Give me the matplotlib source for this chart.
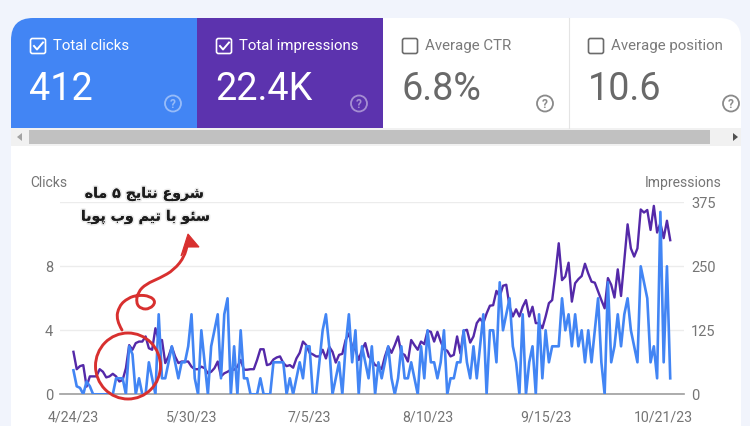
import matplotlib
matplotlib.use('Agg')
import matplotlib.pyplot as plt
import matplotlib.patheffects as pe
from matplotlib.patches import Rectangle, FancyBboxPatch, Circle, Ellipse, Polygon, PathPatch
from matplotlib.path import Path

plt.rcParams['font.family'] = ['Roboto', 'DejaVu Sans']

# Daily clicks
clicks = [1.5, 0.5, 0.4, 0, 0.8, 0.5, 0, 0, 0, 0, 0, 0, 0, 1, 1, 1, 0, 3, 2.5, 0,
          1, 0, 0, 2, 1, 0, 5, 1, 1, 2, 3, 2, 1, 2, 2, 3, 5, 1, 0, 4,
          2, 0, 3, 4, 5, 1, 5, 6, 0, 3, 0, 4, 1, 1, 0, 0, 0, 1, 0, 0,
          0, 2, 2, 2, 2, 0, 1, 0, 1, 2, 1, 3, 3, 0, 0, 2, 4, 5, 3, 0,
          1, 2, 0, 3, 5, 2, 4, 0, 3, 2, 1, 3, 0, 2, 1, 2, 3, 1, 0, 1,
          3, 1, 1, 2, 1, 0, 3, 1, 4, 2, 2, 1, 2, 4, 0, 1, 1, 2, 2, 4,
          2, 1, 3, 1, 3, 5, 0, 4, 4, 2, 7,
          4, 5, 6, 3, 2, 0, 5, 0, 2, 3, 0, 5, 1, 4, 2, 3, 3, 3, 6, 4,
          5, 3, 5, 3, 4, 2, 4, 2, 4, 6, 2, 0, 7, 2, 3, 5, 3, 5, 6, 4,
          3, 2, 8, 7, 6, 2, 3, 1, 11.4, 2, 8, 1]

# Daily impressions
impressions = [83, 49, 55, 57, 15, 35, 35, 35, 49, 44, 33, 35, 40, 35, 25, 28, 51, 96, 87, 100,
               103, 103, 113, 90, 87, 129, 106, 106, 61, 74, 93, 74, 61, 64, 64, 64, 54, 49, 49, 54,
               51, 41, 44, 51, 64, 35, 41, 44, 48, 48, 54, 67, 48, 48,
               49, 49, 67, 88, 88, 57, 59, 68, 72, 74, 61, 55, 57, 52, 70, 81, 103, 96, 81, 78,
               74, 74, 87, 70, 93, 83, 62, 77, 79, 106, 119, 93, 87, 67, 87, 100, 74, 67, 57, 55,
               49, 74, 93, 81, 96, 113, 80, 77, 64, 106, 96, 87, 103, 98, 124, 122, 103, 122, 103, 88,
               85, 74, 77, 113, 80, 124, 126, 101, 113, 139, 148, 139, 158, 173, 174, 202,
               191, 212, 214, 171, 152, 166, 152, 171, 184, 152, 171, 139, 139, 129, 152, 178, 184, 236, 295, 223,
               230, 257, 181, 217, 225, 231, 255, 236, 220, 218, 201, 184, 168, 227, 214, 189, 244, 192, 262, 332,
               285, 269, 285, 361, 355, 360, 321, 368, 316, 334, 305, 339, 301]

date_labels = ['4/24/23', '5/30/23', '7/5/23', '8/10/23', '9/15/23', '10/21/23']
date_ticks = [0, 36, 72, 108, 144, 180]
click_ticks = [0, 4, 8, 12]
click_labels = ['0', '4', '8', '']
impression_ticks = [0, 125, 250, 375]

# tile title, value, tile left edge, selected or not
tile_titles = ['Total clicks', 'Total impressions', 'Average CTR', 'Average position']
tile_values = ['412', '22.4K', '6.8%', '10.6']
tile_lefts = [11, 197, 383, 569]
tile_selected = [True, True, False, False]

note_lines = ['شروع نتایج ۵ ماه', 'سئو با تیم وب پویا']

BLUE = '#4285f4'
PURPLE = '#5429a8'
GREY = '#757575'
RED = '#d8302f'

# matplotlib does not join arabic letters, so pick the joined forms by hand
FORMS = {'ش': (0xFEB5, 0xFEB6, 0xFEB7, 0xFEB8), 'ر': (0xFEAD, 0xFEAE), 'و': (0xFEED, 0xFEEE),
         'ع': (0xFEC9, 0xFECA, 0xFECB, 0xFECC), 'ن': (0xFEE5, 0xFEE6, 0xFEE7, 0xFEE8),
         'ت': (0xFE95, 0xFE96, 0xFE97, 0xFE98), 'ا': (0xFE8D, 0xFE8E),
         'ی': (0xFBFC, 0xFBFD, 0xFBFE, 0xFBFF), 'ج': (0xFE9D, 0xFE9E, 0xFE9F, 0xFEA0),
         'م': (0xFEE1, 0xFEE2, 0xFEE3, 0xFEE4), 'ه': (0xFEE9, 0xFEEA, 0xFEEB, 0xFEEC),
         'س': (0xFEB1, 0xFEB2, 0xFEB3, 0xFEB4), 'ئ': (0xFE89, 0xFE8A, 0xFE8B, 0xFE8C),
         'ب': (0xFE8F, 0xFE90, 0xFE91, 0xFE92), 'پ': (0xFB56, 0xFB57, 0xFB58, 0xFB59)}


def shape_persian(line):
    out = []
    for i, ch in enumerate(line):
        if ch not in FORMS:
            out.append(ch)
            continue
        prev = line[i - 1] if i > 0 else ' '
        nxt = line[i + 1] if i + 1 < len(line) else ' '
        joins_back = prev in FORMS and len(FORMS[prev]) == 4
        joins_next = nxt in FORMS and len(FORMS[ch]) == 4
        forms = FORMS[ch]
        if joins_back and joins_next:
            out.append(chr(forms[3]))
        elif joins_next:
            out.append(chr(forms[2]))
        elif joins_back:
            out.append(chr(forms[1]))
        else:
            out.append(chr(forms[0]))
    return ''.join(reversed(out))


def smooth_path(points):
    # quadratic pieces through the midpoints, looks hand drawn enough
    verts = [points[0]]
    codes = [Path.MOVETO]
    for a, b in zip(points[1:-1], points[2:]):
        verts += [a, ((a[0] + b[0]) / 2, (a[1] + b[1]) / 2)]
        codes += [Path.CURVE3, Path.CURVE3]
    verts.append(points[-1])
    codes.append(Path.LINETO)
    return Path(verts, codes)


fig = plt.figure(figsize=(7.5, 4.26), dpi=100, facecolor='#f1f4fc')

# page chrome in pixel coordinates
bg = fig.add_axes([0, 0, 1, 1], zorder=0)
bg.set_xlim(0, 750)
bg.set_ylim(426, 0)
bg.axis('off')

bg.add_patch(FancyBboxPatch((33, 40), 686, 420, boxstyle='round,pad=22,rounding_size=22', fc='white', ec='none'))

bg.add_patch(FancyBboxPatch((33, 40), 60, 60, boxstyle='round,pad=22,rounding_size=22', fc=BLUE, ec='none'))
bg.add_patch(Rectangle((33, 18), 164, 110, fc=BLUE, ec='none'))
bg.add_patch(Rectangle((11, 40), 186, 88, fc=BLUE, ec='none'))
bg.add_patch(Rectangle((197, 18), 186, 110, fc='#5c33ae', ec='none'))
bg.plot([568.5, 568.5], [18, 128], color='#e4e4e4', lw=0.8)

for title, value, left, selected in zip(tile_titles, tile_values, tile_lefts, tile_selected):
    fg = 'white' if selected else '#7a7a7a'
    bg.add_patch(FancyBboxPatch((left + 20.5, 39.5), 13, 13, boxstyle='round,pad=1,rounding_size=2',
                                fc='none', ec=fg if selected else '#6b6b6b', lw=1.2))
    if selected:
        bg.plot([left + 23, left + 26, left + 32], [46, 49.5, 42.5], color=fg, lw=1.4)
    bg.text(left + 42, 46, title, color=fg, fontsize=10.8, va='center', ha='left', family='Roboto')
    bg.text(left + 18.5, 100, value, color=fg if selected else '#696969', fontsize=27.2, va='baseline',
            ha='left', family='Roboto')
    icon = 'white' if selected else '#8a8a8a'
    alpha = 0.45 if selected else 1
    bg.add_patch(Circle((left + 162, 103.5), 8, fc='none', ec=icon, lw=1.3, alpha=alpha))
    bg.text(left + 162, 104, '?', color=icon, alpha=alpha, fontsize=8.5, fontweight='bold', ha='center',
            va='center', family='Roboto')

# scrollbar under the tiles
bg.add_patch(Rectangle((11, 128), 730, 18, fc='#f1f1f1', ec='none'))
bg.add_patch(Rectangle((29, 130), 681, 14, fc='#c1c1c1', ec='none'))
bg.add_patch(Polygon([(17, 137), (22, 133), (22, 141)], fc='#a3a3a3', ec='none'))
bg.add_patch(Polygon([(733, 133), (733, 141), (738, 137)], fc='#505050', ec='none'))

bg.text(30, 183, 'Clicks', color=GREY, fontsize=10, va='center', ha='left', family='Roboto')
bg.text(722, 183, 'Impressions', color=GREY, fontsize=10.1, va='center', ha='right', family='Roboto')

# the chart itself
days = list(range(len(clicks)))
ax = fig.add_axes([60 / 750, 1 - 394.3 / 426, 624 / 750, 192 / 426], zorder=2)
ax.patch.set_visible(False)
ax2 = ax.twinx()
ax2.set_zorder(1)

ax2.plot(days, impressions, color=PURPLE, lw=1.7, solid_joinstyle='round')
ax.plot(days, clicks, color=BLUE, lw=1.9, solid_joinstyle='round')

ax.set_xlim(-4.1, 186.2)
ax.set_ylim(0, 12)
ax2.set_ylim(0, 375)
ax.set_xticks(date_ticks)
ax.set_xticklabels(date_labels)
ax.set_yticks(click_ticks)
ax.set_yticklabels(click_labels)
ax2.set_yticks(impression_ticks)
ax.tick_params(axis='x', length=0, pad=12, colors=GREY, labelsize=10.2)
ax.tick_params(axis='y', length=0, pad=5, colors=GREY, labelsize=10.5)
ax2.tick_params(axis='y', length=0, pad=5, colors=GREY, labelsize=10.5)

for spine in list(ax.spines.values()) + list(ax2.spines.values()):
    spine.set_visible(False)
ax2.grid(True, axis='y', color='#ececec', lw=1)
ax2.set_axisbelow(True)
ax.axhline(0, color='#9e9e9e', lw=1.2, clip_on=False, zorder=1)

# red hand drawn note on top
top = fig.add_axes([0, 0, 1, 1], zorder=3)
top.set_xlim(0, 750)
top.set_ylim(426, 0)
top.axis('off')
top.patch.set_visible(False)

top.add_patch(Ellipse((128, 366), 65, 66, fc='none', ec=RED, lw=2.1))
stroke = [(122, 330), (116, 320), (119, 306), (128, 298), (138, 295), (150, 296), (156, 302), (150, 309),
          (141, 309), (136, 303), (138, 292), (146, 284), (160, 278), (174, 270), (185, 256), (188, 240)]
top.add_patch(PathPatch(smooth_path(stroke), fc='none', ec=RED, lw=2.1, capstyle='round'))
top.add_patch(Polygon([(188, 234), (181, 256), (188, 247), (199, 247)], fc=RED, ec=RED, lw=0.8))

# soft shadow behind the note, dejavu bold is fine on its own
note_effects = [pe.withStroke(linewidth=2.4, foreground='#00000014')]
top.text(144, 194, shape_persian(note_lines[0]), color='#1c1c1c', fontsize=10.2, fontweight='bold',
         ha='center', va='center', family='DejaVu Sans', path_effects=note_effects)
top.text(145, 217, shape_persian(note_lines[1]), color='#1c1c1c', fontsize=10.2, fontweight='bold',
         ha='center', va='center', family='DejaVu Sans', path_effects=note_effects)

fig.savefig('out.png', dpi=100, facecolor=fig.get_facecolor())
